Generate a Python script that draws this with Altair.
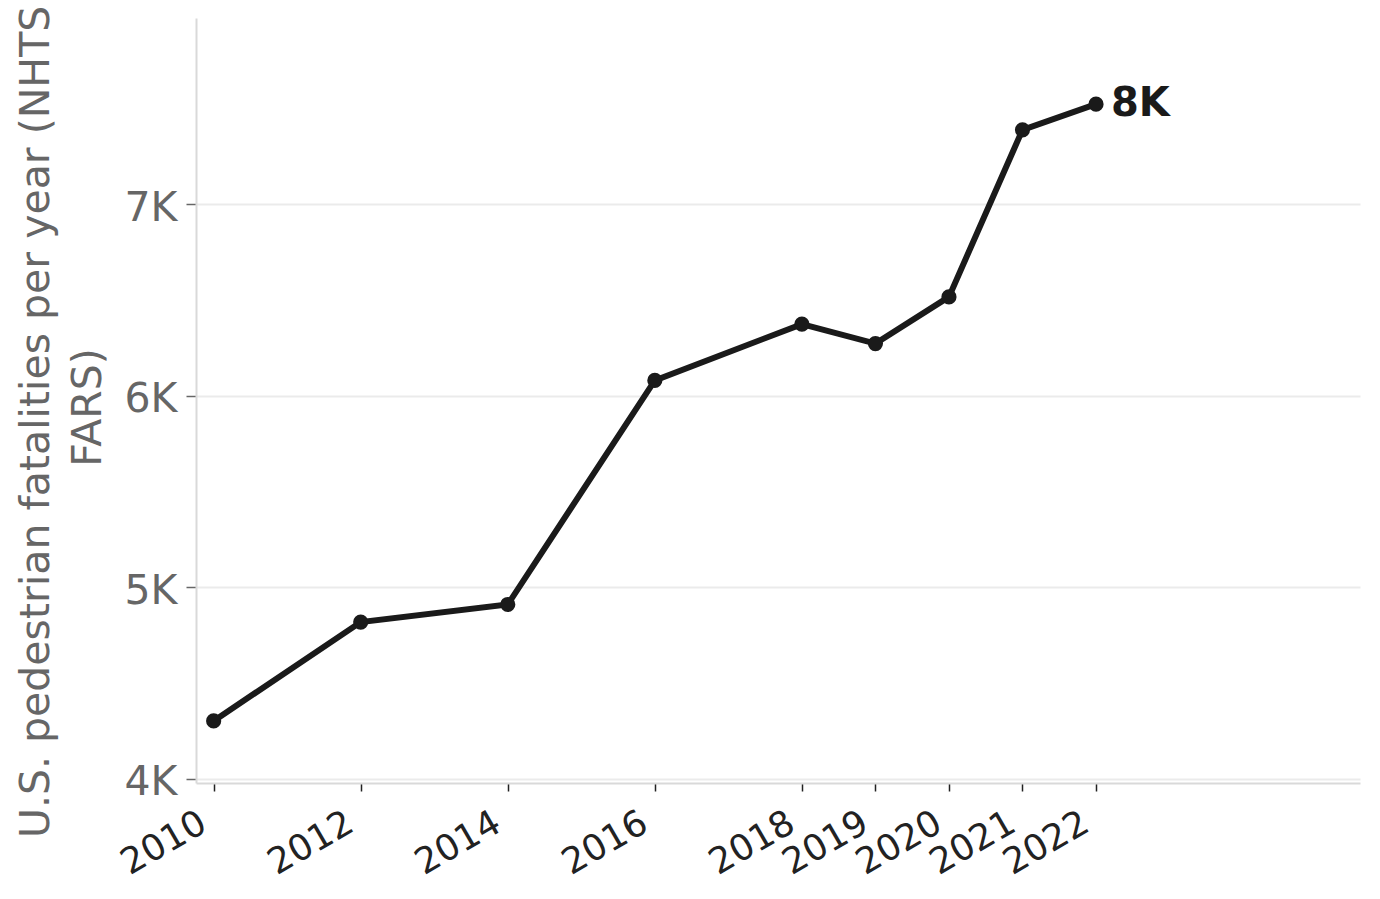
import altair as alt
import pandas as pd

years = [2010, 2012, 2014, 2016, 2018, 2019, 2020, 2021, 2022]
fatalities = [4302, 4818, 4910, 6080, 6374, 6272, 6516, 7388, 7522]
y_ticks = [4000, 5000, 6000, 7000]
x_domain = [2009.76, 2025.59]
y_domain = [3978, 7972]
y_title = ["U.S. pedestrian fatalities per year (NHTSA", "FARS)"]

df = pd.DataFrame({"year": years, "value": fatalities})

FONT = "DejaVu Sans"
INK = "#1a1a1a"

x_enc = alt.X(
    "year:Q",
    scale=alt.Scale(domain=x_domain, nice=False, zero=False),
    axis=alt.Axis(
        values=years, format="d", labelAngle=-30, labelAlign="right",
        labelBaseline="top", labelOffset=-19, labelPadding=14,
        labelFontSize=36, labelColor="#222222", labelFont=FONT,
        labelOverlap=False, labelFlush=False,
        tickColor="#222222", tickWidth=1.5, tickSize=8,
        domainColor="#d9d9d9", domainWidth=2, grid=False, title=None,
    ),
)
y_enc = alt.Y(
    "value:Q",
    scale=alt.Scale(domain=y_domain, nice=False, zero=False),
    axis=alt.Axis(
        values=y_ticks,
        labelExpr="replace(format(datum.value, '~s'), 'k', 'K')",
        labelFontSize=41, labelColor="#666666", labelFont=FONT,
        labelPadding=9, labelOffset=4,
        tickColor="#666666", tickWidth=1.5, tickSize=10,
        domainColor="#d9d9d9", domainWidth=2,
        grid=True, gridColor="#ebebeb", gridWidth=2,
        title=y_title, titleFontSize=41, titleColor="#666666",
        titleFont=FONT, titleFontWeight="normal",
        titleX=-139, titleY=389, titleAngle=-90,
        titleBaseline="bottom", titleAlign="center", titleLineHeight=52,
    ),
)

base = alt.Chart(df)

line = base.mark_line(color=INK, strokeWidth=6).encode(x=x_enc, y=y_enc)
points = base.mark_circle(color=INK, size=230, opacity=1).encode(x=x_enc, y=y_enc)
label = (
    base.transform_filter(alt.datum.year == years[-1])
    .transform_calculate(txt="replace(format(datum.value, '.1s'), 'k', 'K')")
    .mark_text(align="left", baseline="middle", dx=15, fontSize=40,
               fontWeight="bold", font=FONT, color=INK)
    .encode(x=x_enc, y=y_enc, text="txt:N")
)

chart = (
    alt.layer(line, points, label)
    .properties(
        width=1164, height=765,
        autosize=alt.AutoSizeParams(type="none"),
        padding={"left": 188, "top": 10, "right": 12, "bottom": 104},
    )
    .configure(font=FONT)
    .configure_view(stroke=None)
)

chart.save("out.html", embed_options={"renderer": "svg", "actions": False})
